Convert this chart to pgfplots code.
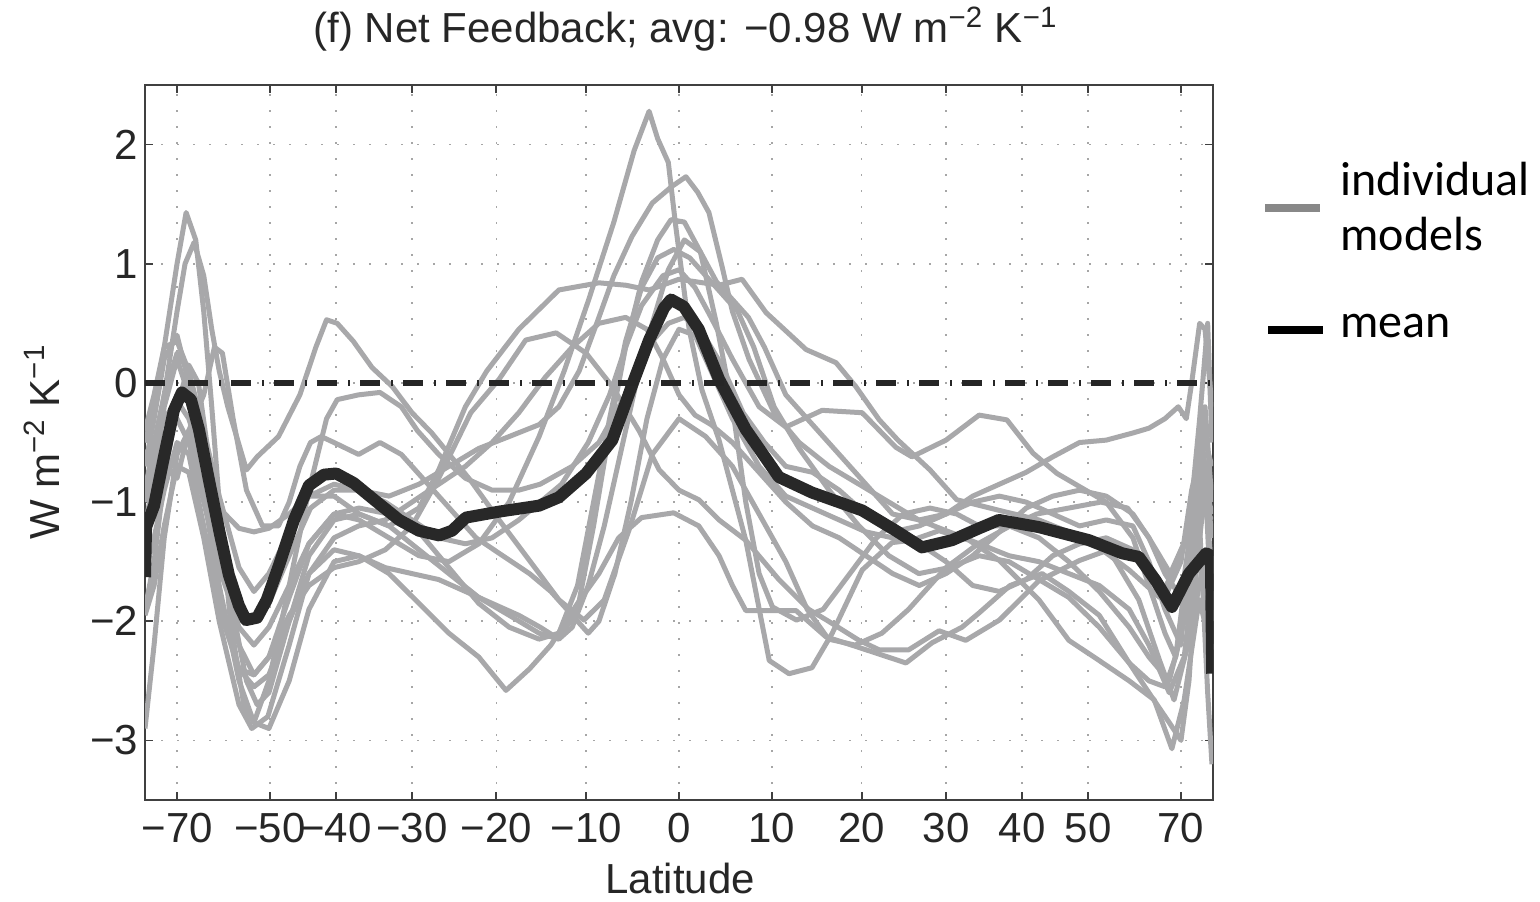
\documentclass[border=0pt]{standalone}
\usepackage{fontspec}
\setmainfont{Liberation Sans}
\newfontfamily\calibri{Carlito}
\usepackage{pgfplots}
\pgfplotsset{compat=1.18}
\definecolor{modelgray}{RGB}{168,168,170}
\definecolor{meanblack}{RGB}{40,40,40}
\definecolor{leggray}{RGB}{136,136,136}
\pgfplotsset{model/.style={color=modelgray, line width=2.5pt, line join=round, forget plot}}
\begin{document}
\begin{tikzpicture}
\useasboundingbox (0,0) rectangle (770pt,450.5pt);
\begin{axis}[
  at={(72.5pt,50.5pt)}, anchor=south west,
  width=534pt, height=357.5pt, scale only axis,
  xmin=-1, xmax=1, ymin=-3.5, ymax=2.5,
  xtick={-0.939693,-0.766044,-0.642788,-0.5,-0.342020,-0.173648,0,0.173648,0.342020,0.5,0.642788,0.766044,0.939693},
  xticklabels={−70,−50,−40,−30,−20,−10,0,10,20,30,40,50,70},
  ytick={-3,-2,-1,0,1,2},
  yticklabels={−3,−2,−1,0,1,2},
  tick align=inside, major tick length=4pt,
  tick style={draw=black!75, line width=0.9pt},
  axis line style={draw=black!75, line width=0.9pt},
  grid=major,
  major grid style={draw=gray!70, line width=0.8pt, dash pattern=on 1pt off 7pt},
  ticklabel style={font=\fontsize{21}{25}\selectfont, text=black!85},
  xticklabel style={yshift=-3pt},
  title={(f) Net Feedback; avg: −0.98 W m\textsuperscript{−2} K\textsuperscript{−1}},
  title style={at={(0.506,1.042)}, anchor=base, font=\fontsize{21}{25}\selectfont, text=black!85},
  xlabel={Latitude},
  xlabel style={at={(0.501,-0.131)}, anchor=base, font=\fontsize{21}{25}\selectfont, text=black!85},
  ylabel={W m\textsuperscript{−2} K\textsuperscript{−1}},
  every axis y label/.style={at={(-0.0796,0.5007)}, rotate=90, anchor=base, font=\fontsize{21}{25}\selectfont, text=black!85},
  clip=true,
]
% individual models
\addplot[model] coordinates {(-1,-0.9) (-0.983,-0.5) (-0.964,-0.1) (-0.94,0.25) (-0.918,0.1) (-0.89,-0.6) (-0.861,-1.4) (-0.824,-2.2) (-0.796,-2.45) (-0.768,-2.3) (-0.73,-1.8) (-0.693,-1.35) (-0.646,-1.1) (-0.599,-1.15) (-0.543,-1.3) (-0.487,-1.45) (-0.431,-1.5) (-0.375,-1.35) (-0.318,-1.0) (-0.262,-0.45) (-0.215,0.1) (-0.169,0.7) (-0.122,1.35) (-0.084,1.95) (-0.056,2.28) (-0.04,2.05) (-0.02,1.85) (-0.006,1.31) (0.019,0.45) (0.043,-0.06) (0.075,-0.48) (0.125,-1.32) (0.169,-2.33) (0.206,-2.44) (0.249,-2.39) (0.287,-2.1) (0.343,-1.57) (0.399,-1.34) (0.436,-1.32) (0.487,-1.24) (0.543,-1.32) (0.6,-1.49) (0.674,-1.82) (0.73,-2.16) (0.787,-2.33) (0.843,-2.5) (0.89,-2.66) (0.923,-3.07) (0.946,-2.66) (0.974,-1.82) (0.998,-2.24)};
\addplot[model] coordinates {(-1,-0.4) (-0.983,-0.1) (-0.964,0.3) (-0.94,0.35) (-0.918,0.1) (-0.89,-0.4) (-0.861,-0.95) (-0.824,-1.55) (-0.796,-1.75) (-0.768,-1.6) (-0.73,-1.25) (-0.693,-0.95) (-0.646,-0.85) (-0.599,-0.9) (-0.543,-0.95) (-0.487,-0.85) (-0.431,-0.7) (-0.375,-0.55) (-0.318,-0.45) (-0.262,-0.35) (-0.225,-0.2) (-0.187,0.1) (-0.15,0.55) (-0.122,0.9) (-0.088,1.23) (-0.05,1.51) (-0.013,1.65) (0.013,1.73) (0.035,1.6) (0.056,1.43) (0.081,0.97) (0.10,0.6) (0.131,0.2) (0.178,-0.25) (0.225,-0.5) (0.281,-0.7) (0.337,-0.85) (0.393,-1.0) (0.449,-1.15) (0.506,-1.25) (0.562,-1.35) (0.618,-1.45) (0.674,-1.5) (0.73,-1.6) (0.787,-1.7) (0.843,-1.9) (0.88,-2.2) (0.918,-2.6) (0.946,-2.3) (0.964,-1.6) (0.983,-0.8) (0.998,-1.1)};
\addplot[model] coordinates {(-1,-1.9) (-0.983,-1.5) (-0.964,-0.8) (-0.94,-0.2) (-0.918,0.15) (-0.9,0.0) (-0.875,-0.8) (-0.845,-1.7) (-0.81,-2.5) (-0.79,-2.7) (-0.768,-2.6) (-0.73,-2.0) (-0.693,-1.45) (-0.646,-1.15) (-0.599,-1.1) (-0.543,-1.2) (-0.487,-1.4) (-0.431,-1.6) (-0.375,-1.8) (-0.318,-1.95) (-0.262,-2.1) (-0.225,-2.15) (-0.19,-1.9) (-0.16,-1.2) (-0.13,-0.4) (-0.1,0.3) (-0.07,0.85) (-0.04,1.2) (-0.015,1.37) (0.01,1.35) (0.04,1.1) (0.07,0.5) (0.1,-0.2) (0.125,-1.0) (0.15,-1.6) (0.175,-1.88) (0.22,-1.99) (0.27,-1.9) (0.32,-1.6) (0.37,-1.3) (0.42,-1.1) (0.47,-1.05) (0.52,-1.1) (0.562,-1.2) (0.618,-1.2) (0.674,-1.3) (0.73,-1.5) (0.787,-1.75) (0.843,-2.05) (0.88,-2.3) (0.918,-2.5) (0.946,-2.0) (0.964,-1.3) (0.983,-0.6) (0.998,-2.0)};
\addplot[model] coordinates {(-1,-1.4) (-0.983,-1.0) (-0.964,-0.5) (-0.94,-0.3) (-0.918,-0.5) (-0.89,-1.0) (-0.861,-1.55) (-0.824,-2.05) (-0.796,-2.2) (-0.768,-2.05) (-0.73,-1.7) (-0.693,-1.35) (-0.646,-1.1) (-0.599,-1.05) (-0.543,-1.1) (-0.487,-1.25) (-0.431,-1.55) (-0.375,-1.85) (-0.318,-2.05) (-0.262,-2.15) (-0.225,-2.1) (-0.19,-1.7) (-0.16,-1.0) (-0.13,-0.3) (-0.1,0.35) (-0.07,0.8) (-0.04,1.05) (-0.01,1.12) (0.02,1.05) (0.05,0.9) (0.08,0.75) (0.11,0.6) (0.14,0.3) (0.178,-0.2) (0.225,-0.55) (0.281,-0.9) (0.337,-1.2) (0.393,-1.45) (0.449,-1.6) (0.506,-1.55) (0.562,-1.45) (0.618,-1.5) (0.674,-1.65) (0.730,-1.8) (0.787,-2.05) (0.843,-2.35) (0.88,-2.6) (0.918,-2.85) (0.94,-3.0) (0.955,-2.5) (0.97,-1.5) (0.985,-0.9) (0.998,-1.6)};
\addplot[model] coordinates {(-1,-0.6) (-0.983,-0.5) (-0.964,-0.3) (-0.94,-0.15) (-0.918,-0.3) (-0.89,-0.7) (-0.861,-1.05) (-0.824,-1.22) (-0.796,-1.25) (-0.768,-1.22) (-0.73,-1.1) (-0.693,-0.95) (-0.646,-0.95) (-0.599,-1.1) (-0.543,-1.2) (-0.487,-1.05) (-0.45,-0.73) (-0.4,-0.2) (-0.36,0.1) (-0.3,0.45) (-0.225,0.78) (-0.15,0.84) (-0.1,0.82) (-0.056,0.78) (0,0.87) (0.075,0.82) (0.118,0.87) (0.163,0.59) (0.238,0.28) (0.294,0.17) (0.331,-0.03) (0.375,-0.31) (0.41,-0.48) (0.47,-0.73) (0.52,-0.98) (0.6,-1.07) (0.674,-1.15) (0.768,-1.32) (0.843,-1.57) (0.9,-1.8) (0.936,-1.5) (0.974,-0.98) (0.998,-1.15)};
\addplot[model] coordinates {(-1,-1.0) (-0.983,-0.6) (-0.964,-0.1) (-0.94,0.6) (-0.925,1.0) (-0.908,1.18) (-0.89,0.9) (-0.875,0.45) (-0.861,0.1) (-0.845,-0.2) (-0.81,-0.73) (-0.79,-0.62) (-0.75,-0.45) (-0.71,-0.1) (-0.68,0.3) (-0.66,0.53) (-0.64,0.5) (-0.61,0.35) (-0.575,0.13) (-0.537,-0.03) (-0.5,-0.25) (-0.463,-0.42) (-0.39,-0.82) (-0.337,-1.15) (-0.28,-1.49) (-0.225,-1.82) (-0.178,-1.99) (-0.14,-1.82) (-0.094,-1.24) (-0.05,-0.6) (0,-0.3) (0.05,-0.45) (0.1,-0.7) (0.15,-1.1) (0.2,-1.5) (0.24,-1.9) (0.28,-2.15) (0.33,-2.2) (0.38,-2.1) (0.43,-1.9) (0.5,-1.55) (0.56,-1.35) (0.62,-1.2) (0.67,-1.1) (0.73,-1.05) (0.79,-1.0) (0.84,-1.05) (0.88,-1.3) (0.92,-1.6) (0.95,-1.3) (0.98,-0.6) (0.998,-0.9)};
\addplot[model] coordinates {(-1,-0.5) (-0.983,-0.2) (-0.964,0.3) (-0.94,1.0) (-0.923,1.43) (-0.905,1.2) (-0.89,0.6) (-0.875,-0.2) (-0.861,-1.0) (-0.84,-2.0) (-0.815,-2.7) (-0.796,-2.85) (-0.768,-2.5) (-0.73,-1.7) (-0.693,-0.9) (-0.66,-0.3) (-0.64,-0.14) (-0.6,-0.1) (-0.56,-0.08) (-0.52,-0.2) (-0.49,-0.4) (-0.45,-0.6) (-0.4,-0.8) (-0.35,-0.9) (-0.3,-0.9) (-0.26,-0.85) (-0.2,-0.7) (-0.15,-0.5) (-0.1,-0.1) (-0.06,0.3) (-0.02,0.5) (0.01,0.55) (0.04,0.45) (0.08,0.15) (0.12,-0.25) (0.16,-0.5) (0.2,-0.7) (0.25,-0.75) (0.3,-0.9) (0.35,-1.1) (0.4,-1.25) (0.45,-1.2) (0.5,-1.1) (0.55,-0.95) (0.6,-0.85) (0.65,-0.75) (0.7,-0.62) (0.75,-0.5) (0.8,-0.48) (0.85,-0.42) (0.88,-0.38) (0.91,-0.3) (0.935,-0.2) (0.95,-0.3) (0.96,0.0) (0.975,0.5) (0.985,0.45) (0.998,-0.2)};
\addplot[model] coordinates {(-1,-0.7) (-0.983,-0.3) (-0.964,0.2) (-0.94,0.4) (-0.918,0.0) (-0.89,-0.9) (-0.861,-1.8) (-0.824,-2.4) (-0.796,-2.45) (-0.768,-2.3) (-0.73,-1.95) (-0.693,-1.7) (-0.646,-1.55) (-0.6,-1.5) (-0.55,-1.4) (-0.5,-1.2) (-0.45,-0.8) (-0.39,-0.25) (-0.337,0.03) (-0.287,0.36) (-0.23,0.42) (-0.174,0.25) (-0.125,-0.03) (-0.075,-0.4) (-0.037,-0.73) (0,-0.9) (0.037,-0.98) (0.075,-1.15) (0.125,-1.32) (0.187,-1.65) (0.243,-1.9) (0.28,-2.0) (0.337,-2.16) (0.375,-2.24) (0.43,-2.24) (0.487,-2.08) (0.537,-2.16) (0.6,-1.99) (0.674,-1.66) (0.75,-1.49) (0.805,-1.4) (0.861,-1.82) (0.9,-2.33) (0.927,-2.66) (0.955,-2.16) (0.983,-1.49) (0.998,-2.0)};
\addplot[model] coordinates {(-1,-2.9) (-0.983,-2.2) (-0.964,-1.3) (-0.94,-0.6) (-0.918,-0.4) (-0.89,-0.9) (-0.861,-1.7) (-0.824,-2.5) (-0.796,-2.85) (-0.768,-2.9) (-0.73,-2.5) (-0.693,-1.9) (-0.646,-1.5) (-0.599,-1.45) (-0.543,-1.6) (-0.487,-1.85) (-0.431,-2.1) (-0.375,-2.3) (-0.324,-2.58) (-0.28,-2.4) (-0.24,-2.2) (-0.19,-1.85) (-0.15,-1.6) (-0.113,-1.3) (-0.07,-1.13) (-0.01,-1.09) (0.037,-1.2) (0.075,-1.45) (0.1,-1.7) (0.125,-1.91) (0.219,-1.91) (0.275,-2.13) (0.337,-2.22) (0.425,-2.35) (0.474,-2.18) (0.53,-2.05) (0.562,-1.93) (0.62,-1.7) (0.68,-1.6) (0.73,-1.75) (0.787,-1.95) (0.843,-2.35) (0.88,-2.5) (0.91,-2.55) (0.93,-2.3) (0.955,-1.8) (0.975,-1.2) (0.99,-2.6) (0.998,-3.2)};
\addplot[model] coordinates {(-1,-1.2) (-0.983,-0.8) (-0.964,-0.2) (-0.94,0.2) (-0.918,-0.1) (-0.89,-0.7) (-0.861,-1.4) (-0.824,-1.9) (-0.796,-2.0) (-0.768,-1.85) (-0.73,-1.45) (-0.69,-1.05) (-0.646,-0.9) (-0.6,-0.9) (-0.55,-1.0) (-0.5,-1.15) (-0.45,-1.3) (-0.4,-1.35) (-0.35,-1.3) (-0.3,-1.15) (-0.26,-1.0) (-0.22,-0.85) (-0.17,-0.5) (-0.13,-0.1) (-0.1,0.3) (-0.07,0.65) (-0.03,0.9) (0,0.95) (0.03,0.8) (0.06,0.55) (0.1,0.2) (0.15,-0.2) (0.2,-0.37) (0.268,-0.23) (0.343,-0.25) (0.406,-0.54) (0.436,-0.62) (0.5,-0.48) (0.562,-0.27) (0.614,-0.31) (0.663,-0.59) (0.708,-0.76) (0.75,-0.87) (0.8,-1.0) (0.85,-1.3) (0.88,-1.7) (0.91,-2.1) (0.93,-2.3) (0.95,-1.6) (0.97,-0.8) (0.985,-0.2) (0.998,-1.0)};
\addplot[model] coordinates {(-1,-0.35) (-0.983,-0.5) (-0.964,-0.7) (-0.94,-0.8) (-0.918,-0.4) (-0.89,-0.1) (-0.87,0.3) (-0.855,0.25) (-0.835,-0.3) (-0.81,-0.9) (-0.78,-1.2) (-0.75,-1.2) (-0.73,-1.0) (-0.71,-0.7) (-0.69,-0.5) (-0.67,-0.45) (-0.646,-0.5) (-0.6,-0.6) (-0.56,-0.5) (-0.52,-0.6) (-0.48,-0.8) (-0.43,-1.05) (-0.38,-1.3) (-0.33,-1.45) (-0.28,-1.6) (-0.24,-1.75) (-0.2,-1.95) (-0.17,-2.1) (-0.15,-2.0) (-0.12,-1.6) (-0.09,-1.0) (-0.06,-0.3) (-0.03,0.2) (0,0.45) (0.03,0.4) (0.06,0.1) (0.1,-0.3) (0.15,-0.7) (0.2,-0.95) (0.25,-1.05) (0.3,-1.15) (0.35,-1.25) (0.4,-1.3) (0.45,-1.35) (0.5,-1.5) (0.55,-1.7) (0.6,-1.75) (0.65,-1.65) (0.7,-1.45) (0.75,-1.35) (0.8,-1.3) (0.85,-1.4) (0.88,-1.6) (0.91,-1.8) (0.94,-1.5) (0.96,-0.9) (0.98,-0.5) (0.998,-1.3)};
\addplot[model] coordinates {(-1,-1.6) (-0.983,-1.3) (-0.964,-0.9) (-0.94,-0.5) (-0.918,-0.6) (-0.89,-1.2) (-0.861,-1.9) (-0.824,-2.4) (-0.796,-2.55) (-0.768,-2.45) (-0.73,-2.0) (-0.693,-1.6) (-0.646,-1.3) (-0.6,-1.2) (-0.55,-1.15) (-0.5,-1.0) (-0.45,-0.85) (-0.4,-0.7) (-0.35,-0.5) (-0.3,-0.25) (-0.25,0.05) (-0.2,0.3) (-0.15,0.5) (-0.1,0.55) (-0.06,0.45) (-0.03,0.2) (0,-0.1) (0.03,-0.27) (0.06,-0.35) (0.1,-0.5) (0.15,-0.75) (0.2,-1.0) (0.25,-1.2) (0.3,-1.3) (0.35,-1.45) (0.4,-1.6) (0.45,-1.7) (0.5,-1.6) (0.55,-1.45) (0.6,-1.25) (0.65,-1.05) (0.7,-0.95) (0.75,-0.9) (0.8,-0.95) (0.85,-1.1) (0.88,-1.3) (0.91,-1.6) (0.94,-1.8) (0.96,-1.2) (0.98,-0.4) (0.998,-0.7)};
\addplot[model] coordinates {(-1,-1.95) (-0.983,-1.7) (-0.964,-1.2) (-0.94,-0.7) (-0.918,-0.75) (-0.89,-1.3) (-0.861,-2.0) (-0.824,-2.7) (-0.8,-2.9) (-0.77,-2.8) (-0.73,-2.2) (-0.693,-1.6) (-0.646,-1.4) (-0.6,-1.45) (-0.55,-1.55) (-0.5,-1.6) (-0.45,-1.65) (-0.4,-1.75) (-0.35,-1.85) (-0.3,-1.95) (-0.26,-2.05) (-0.225,-2.15) (-0.2,-2.05) (-0.17,-1.7) (-0.14,-1.2) (-0.11,-0.6) (-0.08,0.0) (-0.05,0.5) (-0.02,0.95) (0.01,1.2) (0.04,1.1) (0.07,0.85) (0.1,0.7) (0.13,0.55) (0.16,0.3) (0.2,-0.1) (0.25,-0.35) (0.3,-0.6) (0.35,-0.85) (0.4,-1.1) (0.45,-1.15) (0.5,-1.1) (0.55,-1.0) (0.6,-0.95) (0.65,-1.0) (0.7,-1.1) (0.75,-1.2) (0.8,-1.15) (0.85,-1.2) (0.88,-1.5) (0.91,-1.9) (0.94,-2.2) (0.96,-1.0) (0.975,-0.3) (0.99,0.5) (0.998,-0.5)};
% multi-model mean
\addplot[forget plot, color=meanblack, line width=6pt, line join=round] coordinates {(-1,-1.63) (-0.998,-1.21) (-0.983,-1.03) (-0.964,-0.61) (-0.946,-0.23) (-0.931,-0.08) (-0.914,-0.14) (-0.899,-0.39) (-0.88,-0.82) (-0.861,-1.24) (-0.843,-1.61) (-0.824,-1.87) (-0.811,-1.99) (-0.79,-1.97) (-0.772,-1.82) (-0.749,-1.53) (-0.721,-1.15) (-0.693,-0.86) (-0.665,-0.77) (-0.642,-0.76) (-0.609,-0.84) (-0.571,-0.98) (-0.524,-1.15) (-0.487,-1.24) (-0.449,-1.28) (-0.425,-1.24) (-0.399,-1.13) (-0.337,-1.08) (-0.262,-1.03) (-0.225,-0.96) (-0.174,-0.76) (-0.125,-0.48) (-0.088,-0.02) (-0.056,0.36) (-0.028,0.63) (-0.015,0.70) (0.009,0.64) (0.037,0.45) (0.075,0.03) (0.125,-0.39) (0.187,-0.79) (0.249,-0.92) (0.343,-1.07) (0.406,-1.24) (0.455,-1.38) (0.511,-1.32) (0.562,-1.22) (0.599,-1.15) (0.674,-1.21) (0.768,-1.32) (0.83,-1.43) (0.861,-1.46) (0.893,-1.66) (0.923,-1.88) (0.955,-1.60) (0.987,-1.43) (0.996,-1.45) (0.9985,-2.44)};
% zero line
\addplot[forget plot, color=black!85, line width=3pt, dash pattern=on 10pt off 5.5pt on 1pt off 5pt] coordinates {(-1,0) (1,0)};
\end{axis}
% legend
\draw[leggray, line width=4pt] (632.5pt,346.5pt) -- (660pt,346.5pt);
\node[anchor=base west, inner sep=0pt, font=\calibri\fontsize{24}{29}\selectfont] at (670pt,352.5pt) {individual};
\node[anchor=base west, inner sep=0pt, font=\calibri\fontsize{24}{29}\selectfont] at (670pt,325pt) {models};
\draw[black, line width=4pt] (634pt,285.5pt) -- (661.5pt,285.5pt);
\node[anchor=base west, inner sep=0pt, font=\calibri\fontsize{24}{29}\selectfont] at (670pt,282pt) {mean};
\end{tikzpicture}
\end{document}
